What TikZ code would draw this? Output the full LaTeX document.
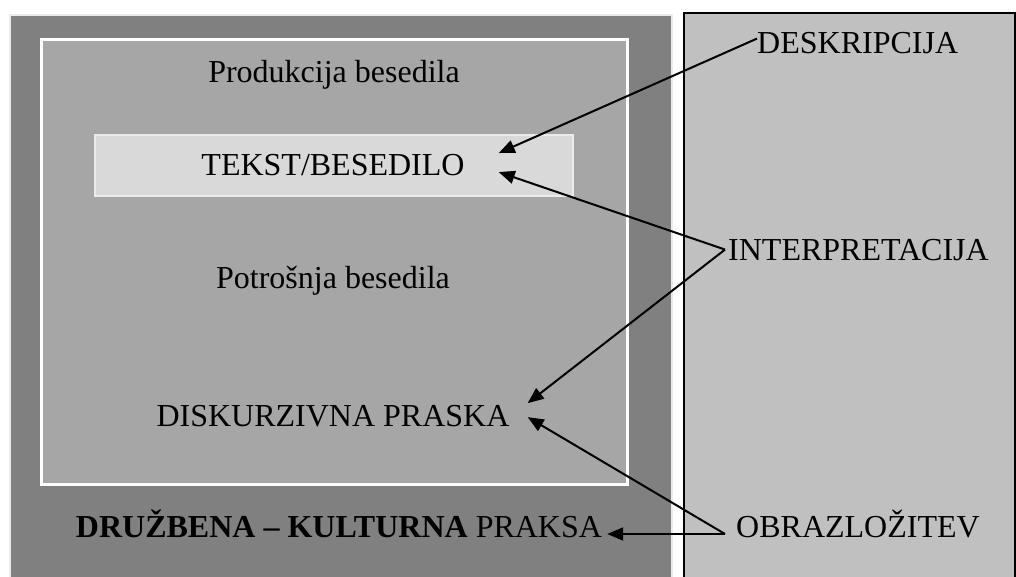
\documentclass[tikz,border=0pt]{standalone}
\usepackage{fontspec}
\setmainfont{Liberation Serif}
\usetikzlibrary{arrows.meta}

\definecolor{darkpane}{HTML}{808080}
\definecolor{midpane}{HTML}{A6A6A6}
\definecolor{textpane}{HTML}{D9D9D9}
\definecolor{sidepane}{HTML}{C0C0C0}

\begin{document}
\begin{tikzpicture}[x = 1pt, y = -1pt,
    txt/.style = {inner sep = 0, font = \fontsize{32}{37}\selectfont},
    pointer/.style = {-{Triangle[length = 16pt, width = 13pt]}, line width = 2pt}]
  \useasboundingbox (0,0) rectangle (1016,576);
  \fill [white] (0,0) rectangle (1016,576);

  % panes
  \draw [draw = black!8, line width = 2pt, fill = darkpane] (10,15) rectangle (672,590);
  \draw [draw = white, line width = 3pt, fill = midpane] (41,39) rectangle (627,484);
  \draw [draw = black!8, line width = 1.5pt, fill = textpane] (95,135) rectangle (573,196);
  \draw [line width = 1.5pt, fill = sidepane] (684,13) rectangle (1015,590);

  % texts
  \node [txt, anchor = base] (prod) at (334,82) {Produkcija besedila};
  \node [txt, anchor = base, inner xsep = 34pt] (tekst) at (333,175) {TEKST/BESEDILO};
  \node [txt, anchor = base] (potr) at (333,288) {Potrošnja besedila};
  \node [txt, anchor = base, inner xsep = 18pt] (disk) at (333,426) {DISKURZIVNA PRASKA};
  \node [txt, anchor = base, inner xsep = 5pt] (druzb) at (339,537)
        {\textbf{DRUŽBENA – KULTURNA} PRAKSA};
  \node [txt, anchor = base west] (deskr) at (757,53) {DESKRIPCIJA};
  \node [txt, anchor = base west, inner xsep = 3pt] (interp) at (725,260) {INTERPRETACIJA};
  \node [txt, anchor = base west, inner xsep = 11pt] (obr) at (725,537) {OBRAZLOŽITEV};

  % arrows
  \draw [pointer] ([yshift = 4pt]deskr.west) -- ([yshift = 11.5pt]tekst.east);
  \draw [pointer] (interp.west) -- ([yshift = -7.5pt]tekst.east);
  \draw [pointer] (interp.west) -- ([yshift = 12.5pt]disk.east);
  \draw [pointer] ([yshift = 3pt]obr.base west) -- ([yshift = -1.5pt]disk.east);
  \draw [pointer] ([yshift = 3pt]obr.base west) -- ([yshift = 3pt]druzb.base east);
\end{tikzpicture}
\end{document}
